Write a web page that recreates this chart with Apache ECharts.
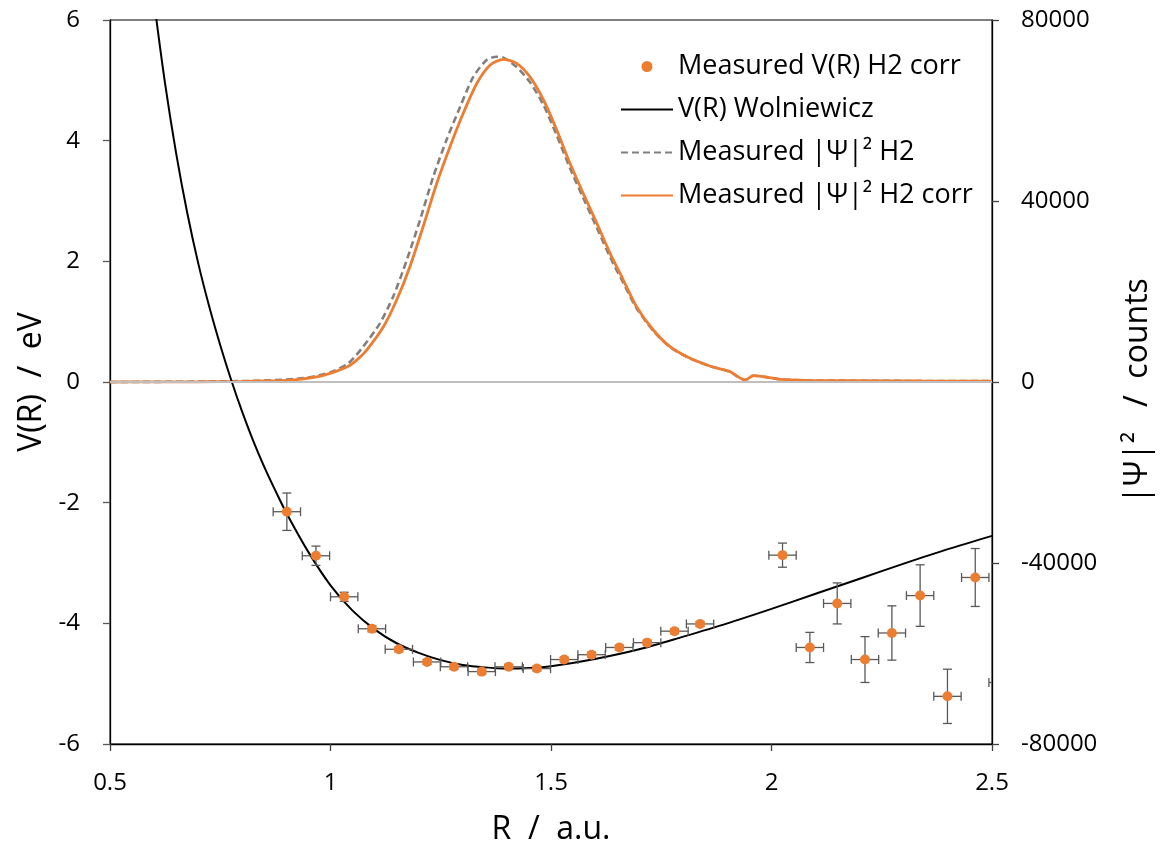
<!DOCTYPE html>
<html>
<head>
<meta charset="utf-8">
<script src="https://cdn.jsdelivr.net/npm/echarts@6/dist/echarts.min.js"></script>
<style>
html,body{margin:0;padding:0;background:#fff;}
#chart{width:1163px;height:854px;}
</style>
</head>
<body>
<div id="chart"></div>
<script>
// Measured potential points (R in a.u., V in eV) with error bars
const ptsR    = [0.901,0.967,1.031,1.094,1.155,1.219,1.280,1.343,1.404,1.468,1.530,1.592,1.655,1.718,1.780,1.838,2.025,2.087,2.149,2.212,2.273,2.337,2.399,2.462,2.524];
const ptsV    = [-2.15,-2.88,-3.56,-4.09,-4.43,-4.64,-4.72,-4.80,-4.72,-4.75,-4.60,-4.52,-4.40,-4.32,-4.13,-4.01,-2.87,-4.40,-3.67,-4.60,-4.16,-3.54,-5.21,-3.24,-4.98];
const ptsVErr = [0.31,0.16,0.075,0.05,0.04,0.04,0.04,0.04,0.04,0.04,0.04,0.04,0.04,0.04,0.04,0.04,0.20,0.25,0.34,0.38,0.45,0.51,0.45,0.48,0.45];
const ptsRErr = [0.031,0.031,0.031,0.031,0.031,0.031,0.031,0.031,0.031,0.031,0.031,0.031,0.031,0.031,0.031,0.031,0.031,0.031,0.031,0.031,0.031,0.031,0.031,0.031,0.031];

// Wolniewicz potential curve
const wolR = [0.600,0.625,0.650,0.675,0.700,0.725,0.750,0.775,0.800,0.825,0.850,0.875,0.900,0.950,1.000,1.050,1.100,1.150,1.200,1.250,1.300,1.350,1.400,1.450,1.500,1.600,1.700,1.800,1.900,2.000,2.100,2.200,2.300,2.400,2.500];
const wolV = [6.30,4.94,3.79,2.81,1.97,1.25,0.61,0.03,-0.50,-0.98,-1.41,-1.80,-2.17,-2.82,-3.37,-3.79,-4.10,-4.33,-4.49,-4.61,-4.69,-4.73,-4.75,-4.74,-4.71,-4.59,-4.43,-4.22,-4.00,-3.76,-3.51,-3.26,-3.01,-2.77,-2.55];

// |Psi|^2 H2 corr (orange)
const corrR = [0.50,0.60,0.70,0.80,0.85,0.885,0.93,0.984,1.037,1.060,1.082,1.120,1.150,1.180,1.210,1.241,1.271,1.301,1.332,1.362,1.392,1.422,1.452,1.483,1.513,1.543,1.573,1.604,1.634,1.664,1.694,1.732,1.770,1.812,1.860,1.906,1.921,1.940,1.959,1.981,2.019,2.080,2.193,2.340,2.500];
const corrC = [0,20,60,150,230,300,600,1450,3300,4900,7070,12220,18120,25480,34320,43910,52000,59380,66010,70060,71320,70430,67470,62320,55690,48330,41700,35070,28440,22540,16640,11490,7800,5400,3540,2280,1330,440,1400,1170,600,370,290,220,200];

// |Psi|^2 H2 (gray dashed)
const rawR = [0.50,0.60,0.70,0.80,0.85,0.90,0.95,0.999,1.040,1.074,1.112,1.142,1.173,1.203,1.233,1.263,1.294,1.324,1.354,1.377,1.392,1.422,1.452,1.483,1.513,1.543,1.573,1.604,1.634,1.664,1.694,1.732,1.770,1.812,1.860,1.906,1.921,1.940,1.959,1.981,2.019,2.080,2.193,2.340,2.500];
const rawC = [0,30,90,200,320,560,1000,2100,4100,7800,12970,18850,26960,35800,45370,53480,60840,67470,71160,71890,71700,69600,66300,61200,54500,47300,40700,34100,27600,21900,16300,11300,7700,5350,3520,2270,1320,440,1390,1160,600,370,290,220,200];

const xTicks = [0.5, 1, 1.5, 2, 2.5];

const FONT = 'Open Sans';
const ORANGE = '#ED7D31';

const zip = (a, b) => a.map((v, i) => [v, b[i]]);
const errData = ptsR.map((r, i) => [r, ptsV[i], ptsRErr[i], ptsVErr[i]]);

const chart = echarts.init(document.getElementById('chart'), null, {renderer: 'canvas'});

const axisLabelStyle = {color: '#000', fontFamily: FONT, fontSize: 24};
const nameStyle = {color: '#000', fontFamily: FONT, fontSize: 32};

chart.setOption({
  animation: false,
  backgroundColor: '#fff',
  grid: {
    left: 110, right: 171, top: 20, bottom: 110,
    show: true, borderColor: '#000', borderWidth: 1,
    containLabel: false, outerBoundsMode: 'none'
  },
  legend: {
    orient: 'vertical',
    left: 620, top: 53,
    padding: 0,
    itemWidth: 52, itemHeight: 11,
    itemGap: 16,
    textStyle: {fontFamily: FONT, fontSize: 27, color: '#000', lineHeight: 27},
    data: [
      {name: 'Measured V(R) H2 corr', itemStyle: {opacity: 1}},
      {name: 'V(R) Wolniewicz', itemStyle: {opacity: 0}},
      {name: 'Measured |Ψ|² H2', itemStyle: {opacity: 0}},
      {name: 'Measured |Ψ|² H2 corr', itemStyle: {opacity: 0}}
    ]
  },
  xAxis: {
    type: 'value', min: 0.5, max: 2.5, interval: 0.5,
    name: 'R  /  a.u.', nameLocation: 'middle', nameGap: 70,
    nameTextStyle: nameStyle, nameMoveOverlap: false,
    axisLine: {show: true, onZero: false, lineStyle: {color: '#000', width: 1.3}},
    axisTick: {show: true, inside: false, length: 7, lineStyle: {color: '#404040', width: 1.3}},
    axisLabel: Object.assign({margin: 27, formatter: v => xTicks.includes(v) ? String(v) : ''}, axisLabelStyle),
    splitLine: {show: false}
  },
  yAxis: [{
    type: 'value', min: -6, max: 6, interval: 2, position: 'left',
    name: 'V(R)  /  eV', nameLocation: 'middle', nameGap: 62, nameRotate: 90,
    nameTextStyle: nameStyle, nameMoveOverlap: false,
    axisLine: {show: true, onZero: false, lineStyle: {color: '#000', width: 1.3}},
    axisTick: {show: true, inside: false, length: 7, lineStyle: {color: '#595959', width: 1.3}},
    axisLabel: Object.assign({margin: 30, formatter: v => String(v)}, axisLabelStyle),
    splitLine: {show: false}
  }, {
    type: 'value', min: -80000, max: 80000, interval: 40000, position: 'right',
    name: '|Ψ|²   /  counts', nameLocation: 'middle', nameGap: 130, nameRotate: 90,
    nameTextStyle: Object.assign({padding: [0, 18, 0, 0]}, nameStyle), nameMoveOverlap: false,
    axisLine: {show: true, onZero: false, lineStyle: {color: '#000', width: 1.3}},
    axisTick: {show: true, inside: false, length: 7, lineStyle: {color: '#404040', width: 1.3}},
    axisLabel: Object.assign({margin: 29, formatter: v => String(v)}, axisLabelStyle),
    splitLine: {show: false}
  }],
  series: [{
    name: 'Measured |Ψ|² H2',
    type: 'line', yAxisIndex: 1,
    data: zip(rawR, rawC),
    showSymbol: false, symbol: 'none', smooth: 0.25,
    lineStyle: {color: '#808080', width: 2.6, type: [7, 4]},
    itemStyle: {color: '#808080'},
    z: 2,
    markLine: {
      silent: true, symbol: 'none', animation: false,
      label: {show: false},
      lineStyle: {color: '#BFBFBF', width: 2, type: 'solid'},
      data: [{yAxis: 0}]
    }
  }, {
    name: 'Measured |Ψ|² H2 corr',
    type: 'line', yAxisIndex: 1,
    data: zip(corrR, corrC),
    showSymbol: false, symbol: 'none', smooth: 0.25,
    lineStyle: {color: ORANGE, width: 2.8},
    itemStyle: {color: ORANGE},
    z: 3
  }, {
    name: 'V(R) Wolniewicz',
    type: 'line', yAxisIndex: 0,
    data: zip(wolR, wolV),
    showSymbol: false, symbol: 'none', smooth: 0.3,
    lineStyle: {color: '#000', width: 2},
    itemStyle: {color: '#000'},
    clip: true,
    z: 4
  }, {
    name: 'errbars',
    type: 'custom', yAxisIndex: 0,
    data: errData,
    encode: {x: 0, y: 1},
    clip: true,
    z: 5,
    silent: true,
    renderItem: function (params, api) {
      const x = api.value(0), y = api.value(1), ex = api.value(2), ey = api.value(3);
      const L = api.coord([x - ex, y]), Rr = api.coord([x + ex, y]);
      const T = api.coord([x, y + ey]), B = api.coord([x, y - ey]);
      const cap = 4.5;
      const st = {stroke: '#595959', lineWidth: 1.3};
      const ln = (x1, y1, x2, y2) => ({type: 'line', shape: {x1, y1, x2, y2}, style: st});
      return {
        type: 'group',
        children: [
          ln(L[0], L[1], Rr[0], Rr[1]),
          ln(L[0], L[1] - cap, L[0], L[1] + cap),
          ln(Rr[0], Rr[1] - cap, Rr[0], Rr[1] + cap),
          ln(T[0], T[1], B[0], B[1]),
          ln(T[0] - cap, T[1], T[0] + cap, T[1]),
          ln(B[0] - cap, B[1], B[0] + cap, B[1])
        ]
      };
    }
  }, {
    name: 'Measured V(R) H2 corr',
    type: 'scatter', yAxisIndex: 0,
    data: zip(ptsR, ptsV),
    symbol: 'circle', symbolSize: 10,
    itemStyle: {color: ORANGE, opacity: 1},
    clip: true,
    z: 6
  }]
});
</script>
</body>
</html>
